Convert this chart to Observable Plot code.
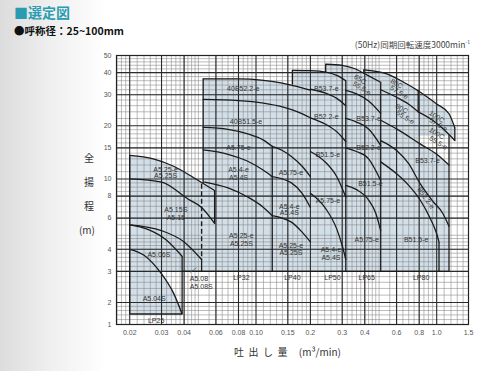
<!DOCTYPE html>
<html><head><meta charset="utf-8">
<script src="https://cdn.jsdelivr.net/npm/d3@7"></script>
<script src="https://cdn.jsdelivr.net/npm/@observablehq/plot@0.6"></script>
<style>
html,body{margin:0;padding:0;}
body{width:485px;height:371px;overflow:hidden;position:relative;background:linear-gradient(to right,#dcdcdc 0px,#efefef 50px,#ffffff 105px);font-family:"Noto Sans CJK JP","Noto Sans",sans-serif;}
#chart{position:absolute;left:0;top:0;}
.t{position:absolute;white-space:nowrap;}
#title{left:14px;top:2px;font-size:14px;font-weight:bold;color:#2a9cb2;}
#sub{left:14px;top:23px;font-size:10.5px;font-weight:bold;color:#111;}
#note{right:15px;top:38px;font-size:8.5px;color:#444;}
#ytitle{left:82px;top:146px;font-size:10px;color:#333;line-height:24px;text-align:center;width:14px;}
#xtitle{left:234px;top:344px;font-size:10px;color:#333;letter-spacing:4.5px;}
</style></head><body>
<div id="chart"></div>
<div class="t" id="title">■選定図</div>
<div class="t" id="sub">●呼称径：25~100mm</div>
<div class="t" id="note">(50Hz)同期回転速度3000min<sup style="font-size:5px">-1</sup></div>
<div class="t" id="ytitle">全<br>揚<br>程<br><span style="margin-left:-4px">(m)</span></div>
<div class="t" id="xtitle">吐出し量 <span style="letter-spacing:0">(m³/min)</span></div>
<script>
// ---- tick values & labels ----
const xTicks=[0.02,0.03,0.04,0.06,0.08,0.1,0.15,0.2,0.3,0.4,0.6,0.8,1.0,1.5];
const xTickLabels=["0.02","0.03","0.04","0.06","0.08","0.10","0.15","0.2","0.3","0.4","0.6","0.8","1.0","1.5"];
const yTicks=[1.5,2,3,4,6,8,10,15,20,30,40,50];
const yTickLabels=["1","2","3","4","6","8","10","15","20","30","40","50"];

// ---- performance curves [flow m3/min, head m] ----
// LP25
const c25A525=[[0.02,13.6],[0.027,13.0],[0.035,11.8],[0.045,10.2],[0.059,8.6]];
const c25A515=[[0.02,10.0],[0.03,9.6],[0.042,7.7],[0.05,6.9],[0.059,5.6]];
const c25A508=[[0.02,5.5],[0.03,5.1],[0.04,4.4],[0.05,3.5]];
const c25A506S=[[0.02,5.5],[0.025,5.2],[0.032,4.5],[0.039,3.65]];
const c25A504S=[[0.02,4.0],[0.024,3.7],[0.03,2.9],[0.035,2.25],[0.039,1.72]];
// LP32
const c32A575=[[0.051,19.6],[0.07,19.1],[0.09,18.0],[0.11,16.6],[0.123,15.3]];
const c32A54=[[0.051,14.6],[0.07,13.8],[0.09,12.6],[0.11,11.2],[0.123,10.3]];
const c32A525=[[0.052,9.6],[0.07,8.9],[0.09,7.9],[0.11,6.9],[0.123,6.2]];
// LP40
const c40B522=[[0.051,36.9],[0.08,36.9],[0.11,36.2],[0.14,34.9],[0.17,33.3],[0.2,31.8]];
const c40B515=[[0.051,28.2],[0.08,27.8],[0.11,26.9],[0.14,25.6],[0.17,24.0],[0.2,22.2]];
const c40A575=[[0.123,15.3],[0.14,14.5],[0.157,13.4],[0.18,11.8],[0.2,10.3]];
const c40A54=[[0.123,10.3],[0.14,10.0],[0.157,9.5],[0.18,8.3],[0.2,6.9]];
const c40A525=[[0.123,6.2],[0.14,6.0],[0.157,5.7],[0.18,5.0],[0.2,4.4]];
// LP50
const c50B537=[[0.159,41.2],[0.2,41.0],[0.243,40.3],[0.28,38.6],[0.314,36.0]];
const c50B522=[[0.2,32.2],[0.243,30.6],[0.28,28.6],[0.314,26.0]];
const c50B515=[[0.2,22.2],[0.243,20.4],[0.28,18.5],[0.314,16.3]];
const c50A575=[[0.2,14.3],[0.243,12.4],[0.28,10.3],[0.314,7.9]];
const c50A54=[[0.2,8.3],[0.243,6.8],[0.28,5.2],[0.3,4.2],[0.314,3.5]];
// LP65
const c65C555=[[0.243,44.6],[0.3,44.0],[0.35,42.2],[0.42,38.3],[0.49,35.3]];
const c65B537=[[0.314,31.7],[0.36,30.3],[0.42,27.6],[0.49,23.5]];
const c65B522=[[0.314,22.0],[0.36,21.0],[0.42,19.2],[0.49,15.5]];
const c65B515=[[0.314,15.0],[0.36,14.3],[0.42,13.0],[0.49,9.8]];
const c65A575=[[0.314,9.2],[0.36,8.7],[0.42,7.6],[0.46,6.4],[0.49,5.1]];
// LP80
const c80C575=[[0.395,41.5],[0.53,39.4],[0.68,34.6],[0.79,31.6]];
const c80C555=[[0.49,32.0],[0.6,29.0],[0.7,26.5],[0.79,24.0]];
const c80B537=[[0.49,21.5],[0.6,19.2],[0.81,15.8],[1.0,13.8],[1.17,12.0]];
const c80B522=[[0.49,16.5],[0.6,14.5],[0.7,12.2],[0.81,9.4],[0.95,7.5],[1.08,6.4],[1.17,5.4]];
const c80B515=[[0.49,12.5],[0.6,10.7],[0.7,9.2],[0.81,7.6],[0.92,6.0],[1.0,4.9],[1.03,4.4]];
// LP100
const c100C575=[[0.79,31.6],[1.0,26.6],[1.17,23.4],[1.26,19.5]];
const c100C555=[[0.79,24.0],[0.95,21.5],[1.1,19.0],[1.26,16.5]];

const curves=[
  {p:c25A525,floor:3},{p:c25A515,floor:3},{p:c25A508,floor:3},{p:c25A506S,floor:3},{p:c25A504S,floor:1.72},
  {p:c32A575,floor:3},{p:c32A54,floor:3},{p:c32A525,floor:3},
  {p:c40B522,floor:3},{p:c40B515,floor:3},{p:c40A575,floor:3},{p:c40A54,floor:3},{p:c40A525,floor:3},
  {p:c50B537,floor:3},{p:c50B522,floor:3},{p:c50B515,floor:3},{p:c50A575,floor:3},{p:c50A54,floor:3},
  {p:c65C555,floor:3},{p:c65B537,floor:3},{p:c65B522,floor:3},{p:c65B515,floor:3},{p:c65A575,floor:3},
  {p:c80C575,floor:3},{p:c80C555,floor:3},{p:c80B537,floor:3},{p:c80B522,floor:3},{p:c80B515,floor:3},
  {p:c100C575,floor:17.5},{p:c100C555,floor:17.5}
];

// ---- outline segments [flow, head top, head bottom] ----
const vSegs=[[0.02,13.6,1.72],[0.039,3.65,1.72],[0.059,8.6,5.6],[0.05,3.5,3.0],
  [0.051,36.9,9.4],[0.123,15.3,3.0],[0.159,41.2,34.2],[0.314,36.0,3.0],[0.243,44.6,40.3],
  [0.49,35.3,3.0],[0.395,41.5,39.7],[0.79,31.6,24.0],[1.26,19.5,16.5],[1.17,17.8,3.0],[1.03,4.4,3.0]];
const hSegs=[[0.02,0.039,1.72],[0.039,0.05,3.0],[0.05,1.17,3.0]];
const dashSegs=[[0.05,9.4,3.5]];

// ---- labels [text, flow, head, rotate] ----
const labels=[
 ["A5.25-e",0.0316,11.3,0],["A5.25S",0.0316,10.4,0],["A5.15S",0.036,6.7,0],["A5.15",0.036,6.05,0],
 ["A5.06S",0.029,3.7,0],["A5.04S",0.0273,2.1,0],
 ["40B52.2-e",0.085,32.4,0],["40B51.5-e",0.088,21.2,0],["A5.75-e",0.08,15.1,0],
 ["A5.4-e",0.08,11.3,0],["A5.4S",0.08,10.2,0],["A5.25-e",0.083,4.75,0],["A5.25S",0.083,4.3,0],
 ["A5.75-e",0.156,10.9,0],["A5.4-e",0.153,7.0,0],["A5.4S",0.153,6.4,0],["A5.25-e",0.156,4.2,0],["A5.25S",0.156,3.8,0],
 ["B53.7-e",0.245,32.6,0],["B52.2-e",0.245,22.6,0],["B51.5-e",0.25,13.8,0],["A5.75-e",0.25,7.5,0],
 ["A5.4-e",0.26,3.95,0],["A5.4S",0.26,3.6,0],
 ["65C",0.377,36.6,32],["55.5-e",0.385,32.6,32],
 ["B53.7-e",0.42,21.8,0],["B52.2-e",0.42,15.0,0],["B51.5-e",0.43,9.4,0],["A5.75-e",0.41,4.5,0],
 ["80C",0.60,34.6,32],["57.5-e",0.62,30.9,32],["80C",0.64,25.0,32],["55.5-e",0.67,22.3,32],
 ["100C",1.0,22.5,32],["57.5-e",1.02,20.3,32],["100C",1.0,18.1,32],["55.5-e",1.02,16.0,32],
 ["B53.7-e",0.89,12.6,0],["B52.2-e",0.87,7.8,55],["B51.5-e",0.77,4.5,0]
];
const lpLabels=[["LP25",0.028,1.57],["LP32",0.083,2.77],["LP40",0.159,2.77],["LP50",0.265,2.77],["LP65",0.41,2.77],["LP80",0.82,2.77]];
const sideLabels=[["A5.08",0.043,2.74],["A5.08S",0.043,2.46]];

// ---- grid (log paper) ----
function steps(a,b,s){const r=[];for(let v=a+s;v<b-s/2;v+=s)r.push(+v.toFixed(4));return r;}
const minorX=[0.017,0.018,0.019,...steps(0.02,0.05,0.002),...steps(0.05,0.1,0.005),...steps(0.1,0.2,0.01),...steps(0.2,0.5,0.02),...steps(0.5,1,0.05),...steps(1,1.5,0.1)];
const minorY=[...steps(1.5,2,0.1),...steps(2,5,0.2),...steps(5,10,0.5),...steps(10,20,1),...steps(20,50,2)];
const majorX=xTicks.slice(0,-1), majorY=yTicks.slice(1,-1);

const fillC="#d2dfe8", ink="#1b1b1b";
const font="Liberation Sans, Arial, sans-serif";
const fs=7;

const marks=[];
for(const c of curves) marks.push(Plot.areaY(c.p,{x:d=>d[0],y1:()=>c.floor,y2:d=>d[1],fill:fillC,curve:"monotone-x"}));
marks.push(Plot.rectY([[0.039,0.05]],{x1:d=>d[0],x2:d=>d[1],y1:()=>3.0,y2:()=>3.5,fill:fillC}));
marks.push(Plot.ruleX(minorX,{stroke:"#858585",strokeWidth:0.55}));
marks.push(Plot.ruleY(minorY,{stroke:"#858585",strokeWidth:0.55}));
marks.push(Plot.ruleX(majorX,{stroke:"#2a2a2a",strokeWidth:1.1}));
marks.push(Plot.ruleY(majorY,{stroke:"#2a2a2a",strokeWidth:1.1}));
for(const c of curves) marks.push(Plot.line(c.p,{x:d=>d[0],y:d=>d[1],stroke:ink,strokeWidth:1.3,curve:"monotone-x"}));
marks.push(Plot.link(vSegs,{x1:d=>d[0],x2:d=>d[0],y1:d=>d[1],y2:d=>d[2],stroke:ink,strokeWidth:1.3}));
marks.push(Plot.link(hSegs,{x1:d=>d[0],x2:d=>d[1],y1:d=>d[2],y2:d=>d[2],stroke:ink,strokeWidth:1.3}));
marks.push(Plot.link(dashSegs,{x1:d=>d[0],x2:d=>d[0],y1:d=>d[1],y2:d=>d[2],stroke:ink,strokeWidth:1.4,strokeDasharray:"5,2.5"}));
marks.push(Plot.text(labels,{x:d=>d[1],y:d=>d[2],text:d=>d[0],rotate:d=>d[3],fontSize:fs,fill:"#333",fontFamily:font}));
marks.push(Plot.text(lpLabels,{x:d=>d[1],y:d=>d[2],text:d=>d[0],fontSize:fs,fill:"#333",fontFamily:font}));
marks.push(Plot.text(sideLabels,{x:d=>d[1],y:d=>d[2],text:d=>d[0],fontSize:fs,fill:"#333",textAnchor:"start",fontFamily:font}));
marks.push(Plot.link([[0.043,2.95,0.047,3.15]],{x1:d=>d[0],y1:d=>d[1],x2:d=>d[2],y2:d=>d[3],stroke:"#555",strokeWidth:0.6}));
// tick labels
marks.push(Plot.text(xTicks,{x:d=>d,frameAnchor:"bottom",dy:10,text:(d,i)=>xTickLabels[i],fontSize:7,fill:"#555",fontFamily:font}));
marks.push(Plot.text(yTicks,{y:d=>d,frameAnchor:"left",dx:-5,textAnchor:"end",text:(d,i)=>yTickLabels[i],fontSize:7,fill:"#555",fontFamily:font}));
marks.push(Plot.frame({stroke:"#222",strokeWidth:1.2}));

const chart=Plot.plot({
  width:485,height:371,marginLeft:116,marginRight:17,marginTop:55,marginBottom:47,
  style:{background:"transparent",fontFamily:font},
  x:{type:"log",domain:[0.0169,1.5],axis:null},
  y:{type:"log",domain:[1.5,50],axis:null},
  marks
});
document.getElementById("chart").appendChild(chart);
</script>
</body></html>
